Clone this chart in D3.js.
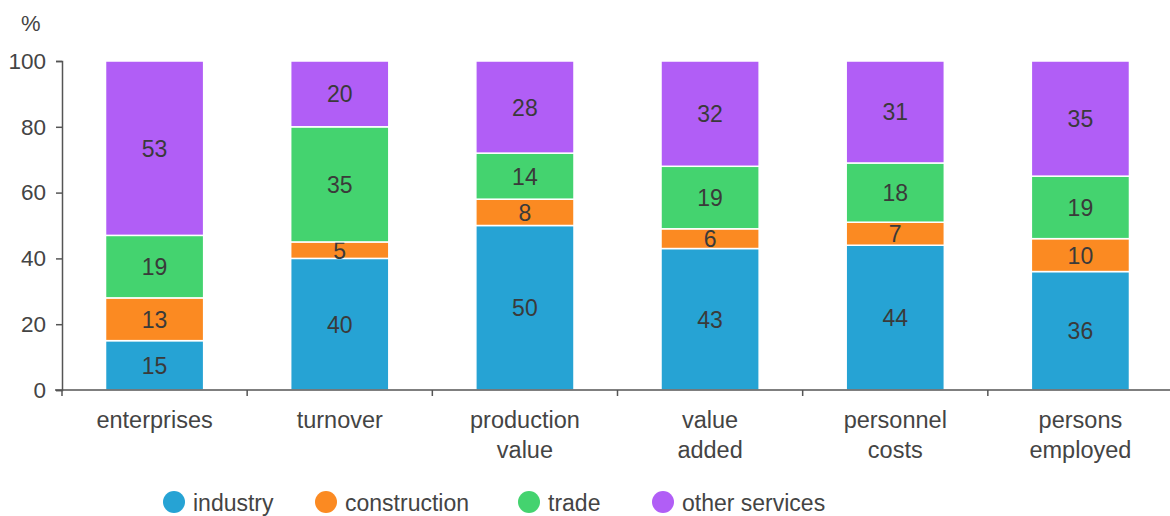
<!DOCTYPE html>
<html><head><meta charset="utf-8">
<script src="https://cdn.jsdelivr.net/npm/d3@7"></script>
<style>body{margin:0;background:#fff;} svg{display:block;} text{font-family:"Liberation Sans",Arial,sans-serif;}</style>
</head><body><svg id="c" width="1170" height="516"></svg>
<script>
const categories = ["enterprises","turnover","production value","value added","personnel costs","persons employed"];
const categoryLines = [["enterprises"],["turnover"],["production","value"],["value","added"],["personnel","costs"],["persons","employed"]];
const seriesNames = ["industry","construction","trade","other services"];
const industry = [15,40,50,43,44,36];
const construction = [13,5,8,6,7,10];
const trade = [19,35,14,19,18,19];
const otherServices = [53,20,28,32,31,35];
const yTicks = [0,20,40,60,80,100];
const colors = ["#26a3d4","#fb8a22","#44d36f","#b15ef6"];

const svg = d3.select("#c");
const x = d3.scaleBand().domain(categories).range([62,1173]).paddingInner(0).paddingOuter(0);
const y = d3.scaleLinear().domain([0,100]).range([390,61]);
const barW = x.bandwidth()*0.53;

const rows = categories.map((c,i)=>({cat:c, industry:industry[i], construction:construction[i], trade:trade[i], "other services":otherServices[i]}));
const stack = d3.stack().keys(seriesNames)(rows);

const g = svg.append("g");
stack.forEach((layer,li)=>{
  layer.forEach(d=>{
    const cx = x(d.data.cat)+x.bandwidth()/2;
    g.append("rect").attr("x",cx-barW/2).attr("width",barW)
      .attr("y",y(d[1])).attr("height",y(d[0])-y(d[1]))
      .attr("fill",colors[li]).attr("stroke","#fff").attr("stroke-width",1.5);
    g.append("text").attr("x",cx).attr("y",(y(d[0])+y(d[1]))/2+8.5)
      .attr("text-anchor","middle").attr("font-size",23).attr("fill","#3a3a3a")
      .text(d[1]-d[0]);
  });
});

// y axis
const ya = svg.append("g").attr("transform","translate(62,0)")
  .call(d3.axisLeft(y).tickValues(yTicks).tickSize(6).tickPadding(10));
ya.select(".domain").attr("stroke","#555").attr("stroke-width",1.5);
ya.selectAll(".tick line").attr("stroke","#555").attr("stroke-width",1.5);
ya.selectAll(".tick text").attr("font-size",22.5).attr("fill","#444").attr("font-family","Liberation Sans, Arial, sans-serif");

// x axis
const xa = svg.append("g").attr("transform","translate(0,390)");
xa.append("line").attr("x1",55).attr("x2",1170).attr("stroke","#555").attr("stroke-width",1.5);
categories.forEach((c,i)=>{
  xa.append("line").attr("x1",x(c)).attr("x2",x(c)).attr("y1",0).attr("y2",6).attr("stroke","#555").attr("stroke-width",1.5);
  const t = xa.append("text").attr("text-anchor","middle").attr("font-size",23.5).attr("fill","#444");
  categoryLines[i].forEach((ln,j)=>{
    t.append("tspan").attr("x",x(c)+x.bandwidth()/2).attr("y",38+j*30).text(ln);
  });
});

svg.append("text").attr("x",21).attr("y",31).attr("font-size",22).attr("fill","#444").text("%");

// legend
const legendX = [174,326,529,663];
seriesNames.forEach((s,i)=>{
  svg.append("circle").attr("cx",legendX[i]).attr("cy",502).attr("r",11).attr("fill",colors[i]);
  svg.append("text").attr("x",legendX[i]+19).attr("y",511).attr("font-size",23).attr("fill","#444").text(s);
});
</script></body></html>
